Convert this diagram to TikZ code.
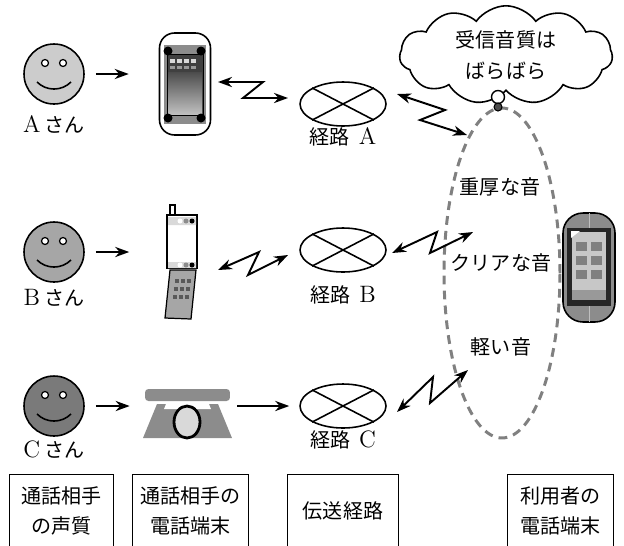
\documentclass[tikz,border=0pt]{standalone}
\usepackage{fontspec}
\newfontfamily\jp{Noto Sans CJK JP}
\newcommand\lat[1]{{\rmfamily\fontsize{13.5}{16}\selectfont #1}}
\usetikzlibrary{shapes.geometric,shapes.symbols,arrows.meta}

\tikzset{
  face/.style={circle,draw,line width=0.9pt,minimum size=1.2cm,inner sep=0pt},
  route/.style={ellipse,draw,line width=0.9pt,minimum width=1.72cm,minimum height=0.88cm,inner sep=0pt},
  lbl/.style={font=\jp\fontsize{11.4}{17.5}\selectfont,inner sep=1pt},
  feed/.style={->,line width=1.1pt},
  zig/.style={<->,line width=1.1pt},
}

\begin{document}
\begin{tikzpicture}[x=0.02cm,y=-0.02cm,>={Stealth[length=8pt,width=5.8pt]}]
  \useasboundingbox (0,0) rectangle (624,545);
  % faces
  \foreach \n/\y/\g/\t/\ly in {a/74/20/A/124,b/252/35/B/298,c/406/52/C/450}{
    \node[face,fill=black!\g] (f\n) at (54,\y) {};
    \draw[fill=white,line width=0.7pt] ([shift={(-9,-11)}]f\n.center) circle (0.07cm)
      ([shift={(9,-11)}]f\n.center) circle (0.07cm);
    \draw[line width=0.9pt] ([shift={(-17,8)}]f\n.center) to[bend right=45] ([shift={(17,8)}]f\n.center);
    \node[lbl] (l\n) at (54,\ly) {\lat{\t}\ さん};}
  % routes
  \foreach \n/\y/\t/\ly in {a/104/A/137,b/250/B/295,c/406/C/440}{
    \node[route] (r\n) at (343,\y) {};
    \draw[line width=0.9pt] (r\n.north west)--(r\n.south east) (r\n.north east)--(r\n.south west);
    \node[lbl] (k\n) at (343,\ly) {経路\ \ \lat{\t}};}

  % smartphone
  \node[draw,fill=white,rounded corners=0.3cm,line width=0.9pt,minimum width=1.02cm,minimum height=2.04cm] (pa) at (185,84) {};
  \fill[black!45] (164,45) rectangle (206,124);
  \draw[fill=black!75] (167,54) rectangle (203,115);
  \shade[top color=black!70,bottom color=black!25] (168,72) rectangle (202,114);
  \foreach \x in {170,177,184,191}{
    \fill[white!85!black] (\x,59) rectangle ++(5,4);
    \fill[white!60!black] (\x,66) rectangle ++(5,3);}
  \foreach \x/\y in {168/51,201/51,168/118,201/118} \fill (\x,\y) circle (0.09cm);

  % flip phone
  \draw[fill=white,line width=0.7pt] (170,205) rectangle (175,216);
  \node[draw,fill=white,line width=0.9pt,minimum width=0.6cm,minimum height=1.06cm,inner sep=0pt] (pb) at (182,241.5) {};
  \fill[black!15] (168,217) rectangle (196,225) (168,262) rectangle (196,268);
  \foreach \yy in {221,265}{
    \fill[white] (180,\yy) circle (0.05cm);
    \fill[black!45] (186,\yy) circle (0.05cm);
    \fill (192,\yy) circle (0.05cm);}
  \draw[fill=black!35,line width=0.7pt] (170,270)--(196,270)--(191,319)--(165,318)--cycle;
  \foreach \i in {0,1,2}
    \foreach \j in {0,1,2}
      \fill[black!65] (174.5+6*\j-\i,279+8*\i) rectangle ++(4.5,4);

  % desk telephone
  \node[fill=black!45,rounded corners=2pt,minimum width=1.7cm,minimum height=0.24cm,inner sep=0pt] (pc) at (187.5,395) {};
  \fill[black!45] (157,404)--(218,404)--(232,438)--(143,438)--cycle;
  \fill[white] (166,404)--(209,404)--(211,409)--(164,409)--cycle;
  \draw[line width=1.6pt,fill=black!15] (187,422) ellipse [x radius=0.26cm,y radius=0.32cm];

  % user's phone
  \node[draw,fill=black!45,rounded corners=0.4cm,line width=0.9pt,minimum width=1.04cm,minimum height=2.18cm] (pu) at (589,267.5) {};
  \draw[black!25] (589,213)--(589,228) (589,306)--(589,322);
  \fill[black!85] (567,228) rectangle (611,306);
  \fill[black!22] (572,232) rectangle (606,300);
  \fill[black!40] (572,290) rectangle (606,300);
  \foreach \x/\y in {576/242,591/242,576/256,591/256,576/270,591/270}
    \fill[black!50] (\x,\y) rectangle ++(11,9);
  \fill[white] (571,231)--(580,231)--(571,238)--cycle;

  % feeds
  \draw[feed,shorten <=0.22cm,shorten >=0.6cm] (fa.east) -- (fa.east -| pa.west);
  \draw[feed,shorten <=0.22cm,shorten >=0.74cm] (fb.east) -- (fb.east -| pb.west);
  \draw[feed,shorten <=0.22cm,shorten >=0.3cm] (fc.east) -- (fc.east -| pc.west);
  \draw[feed,shorten <=0.14cm,shorten >=0.2cm] (pc.east |- rc.west) -- (rc.west);

  % what the user hears
  \node[ellipse,draw=black!50,line width=1.7pt,dash pattern=on 5pt off 3.5pt,minimum width=2.32cm,minimum height=6.6cm] (ring) at (502,273) {};
  \node[lbl] (s1) at (500,187) {重厚な音};
  \node[lbl] (s2) at (501,263) {クリアな音};
  \node[lbl] (s3) at (501,347) {軽い音};

  % radio links
  \foreach \p/\q/\r/\s in {{218,82}/{263,82}/{243,98}/{288,98},
      {397,94}/{445,110}/{420,120}/{467,135},
      {218,270}/{259,252}/{248,275}/{288,255},
      {392,253}/{437,232}/{430,253}/{473,232},
      {397,412}/{433,377}/{430,403}/{468,370}}
    \draw[zig] (\p)--(\q)--(\r)--(\s);

  % thought cloud
  \node[cloud,draw,fill=white,cloud puffs=11,cloud puff arc=110,aspect=2.5,line width=0.9pt,
    minimum width=4.26cm,minimum height=1.68cm,inner sep=0pt,lbl,align=center] (cl) at (506,55) {受信音質は\\ばらばら};
  \node[circle,draw,fill=white,line width=0.8pt,minimum size=0.26cm,inner sep=0pt] (t1) at (498,97) {};
  \node[circle,draw,fill=black!70,line width=0.6pt,minimum size=0.16cm,inner sep=0pt] (t2) at (498,107) {};

  % captions
  \foreach \n/\x/\w/\t in {1/61.5/2.06/{通話相手\\の声質},2/190.5/2.3/{通話相手の\\電話端末},
      3/343/2.2/{伝送経路},4/560.5/2.1/{利用者の\\電話端末}}{
    \node[lbl,align=center,minimum width=\w cm,minimum height=1.44cm] (q\n) at (\x,511) {\t};
    \draw[line width=0.9pt] ([yshift=-0.3cm]q\n.south west) |- (q\n.north east) -- ([yshift=-0.3cm]q\n.south east);}
\end{tikzpicture}
\end{document}
